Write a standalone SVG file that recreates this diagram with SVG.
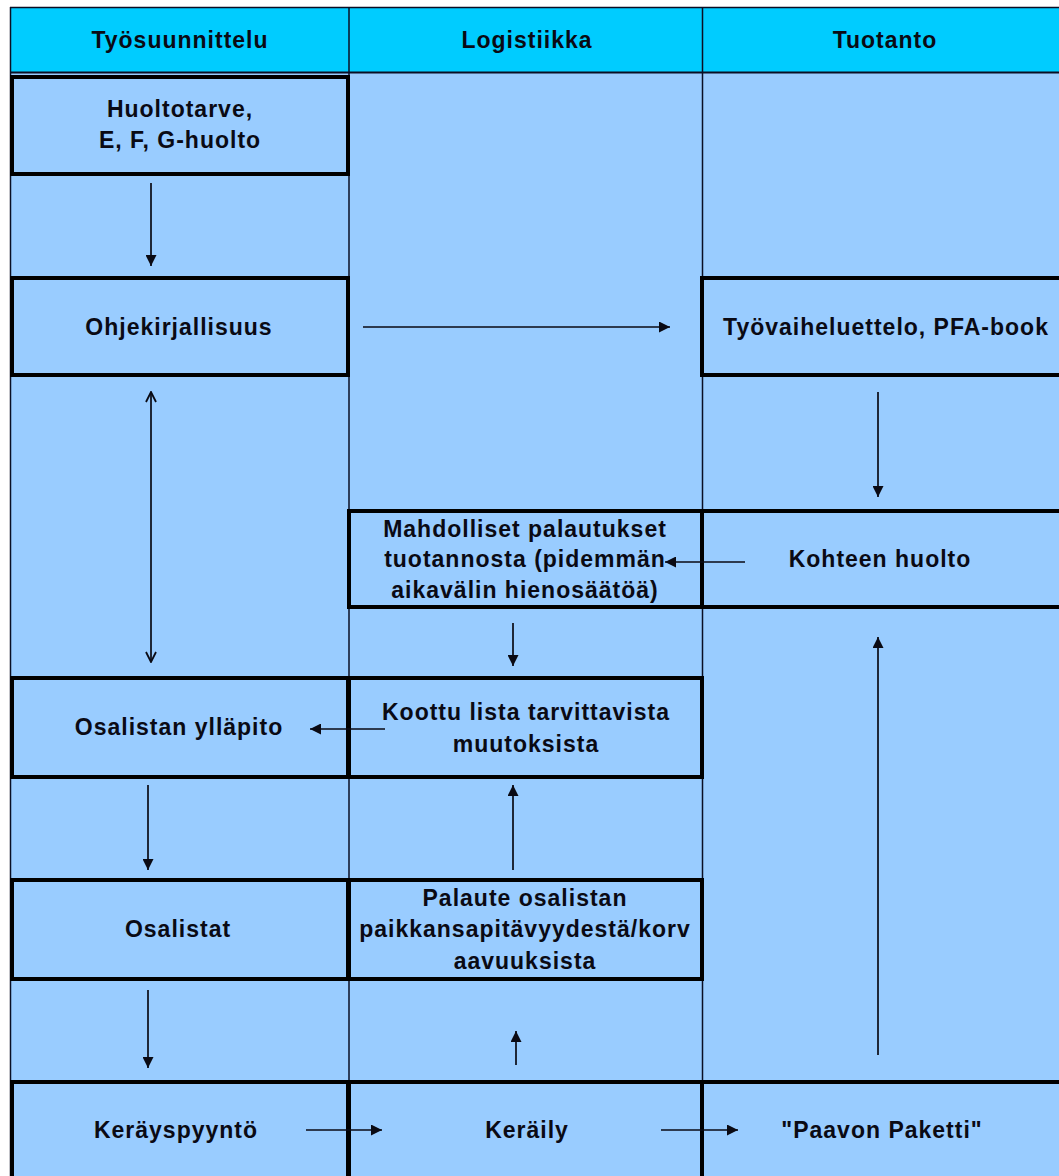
<svg xmlns="http://www.w3.org/2000/svg" width="1059" height="1176" viewBox="0 0 1059 1176">
  <style>
    .hdr { fill: #00CCFF; }
    .lane { fill: #99CCFF; }
    .sep { stroke: #0a0f24; stroke-width: 1.5; fill: none; }
    .box { fill: none; stroke: #000; stroke-width: 4; }
    .lbl { font-family: "Liberation Sans", Arial, sans-serif; font-weight: bold; font-size: 23px; letter-spacing: 1px; fill: #0a0a14; text-anchor: middle; }
    .flow { stroke: #0a0a14; stroke-width: 1.7; fill: none; }
  </style>
  <defs>
    <marker id="head" viewBox="0 0 10 10" refX="10" refY="5" markerWidth="13" markerHeight="11" markerUnits="userSpaceOnUse" orient="auto">
      <path d="M0,0 L10,5 L0,10 z" fill="#0a0a14"/>
    </marker>
    <marker id="open" viewBox="0 0 12 12" refX="11" refY="6" markerWidth="12" markerHeight="13" markerUnits="userSpaceOnUse" orient="auto-start-reverse">
      <path d="M1,1 L11,6 L1,11" fill="none" stroke="#0a0a14" stroke-width="1.8"/>
    </marker>
  </defs>

  <!-- page -->
  <rect x="0" y="0" width="1059" height="1176" fill="#ffffff"/>
  <rect class="lane" x="10" y="72" width="1049" height="1104"/>

  <!-- header row -->
  <g id="header">
    <rect class="hdr" x="10" y="7" width="1049" height="65"/>
    <line class="sep" x1="10" y1="7.5" x2="1059" y2="7.5"/>
    <line class="sep" x1="10.5" y1="7" x2="10.5" y2="1176"/>
    <line x1="10" y1="72.5" x2="1059" y2="72.5" stroke="#0a0f24" stroke-width="2"/>
    <text class="lbl" x="180" y="48">Työsuunnittelu</text>
    <text class="lbl" x="527" y="48">Logistiikka</text>
    <text class="lbl" x="885" y="48">Tuotanto</text>
  </g>

  <!-- lane separators -->
  <g id="lanes">
    <line class="sep" x1="349" y1="7" x2="349" y2="1176"/>
    <line class="sep" x1="702.5" y1="7" x2="702.5" y2="1176"/>
  </g>

  <g id="n-huoltotarve">
    <rect class="box" x="12" y="77" width="336" height="97"/>
    <text class="lbl" x="180" y="117">Huoltotarve,</text>
    <text class="lbl" x="180" y="148">E, F, G-huolto</text>
  </g>

  <g id="n-ohjekirjallisuus">
    <rect class="box" x="12" y="278" width="336" height="97"/>
    <text class="lbl" x="179" y="335">Ohjekirjallisuus</text>
  </g>

  <g id="n-tyovaiheluettelo">
    <rect class="box" x="702" y="278" width="400" height="97"/>
    <text class="lbl" x="886" y="335">Työvaiheluettelo, PFA-book</text>
  </g>

  <g id="n-palautukset">
    <rect class="box" x="349" y="511" width="353" height="96"/>
    <text class="lbl" x="525" y="537">Mahdolliset palautukset</text>
    <text class="lbl" x="525" y="567">tuotannosta (pidemmän</text>
    <text class="lbl" x="525" y="598">aikavälin hienosäätöä)</text>
  </g>

  <g id="n-kohteen-huolto">
    <rect class="box" x="702" y="511" width="400" height="96"/>
    <text class="lbl" x="880" y="567">Kohteen huolto</text>
  </g>

  <g id="n-osalistan-yllapito">
    <rect class="box" x="12" y="678" width="336" height="99"/>
    <text class="lbl" x="179" y="735">Osalistan ylläpito</text>
  </g>

  <g id="n-koottu-lista">
    <rect class="box" x="349" y="678" width="353" height="99"/>
    <text class="lbl" x="526" y="720">Koottu lista tarvittavista</text>
    <text class="lbl" x="526" y="752">muutoksista</text>
  </g>

  <g id="n-osalistat">
    <rect class="box" x="12" y="880" width="336" height="99"/>
    <text class="lbl" x="178" y="937">Osalistat</text>
  </g>

  <g id="n-palaute">
    <rect class="box" x="349" y="880" width="353" height="99"/>
    <text class="lbl" x="525" y="906">Palaute osalistan</text>
    <text class="lbl" x="525" y="937">paikkansapitävyydestä/korv</text>
    <text class="lbl" x="525" y="969">aavuuksista</text>
  </g>

  <g id="n-kerayspyynto">
    <rect class="box" x="12" y="1082" width="336" height="100"/>
    <text class="lbl" x="176" y="1138">Keräyspyyntö</text>
  </g>

  <g id="n-keraily">
    <rect class="box" x="349" y="1082" width="353" height="100"/>
    <text class="lbl" x="527" y="1138">Keräily</text>
  </g>

  <g id="n-paavon-paketti">
    <rect class="box" x="702" y="1082" width="400" height="100"/>
    <text class="lbl" x="882" y="1138">"Paavon Paketti"</text>
  </g>

  <!-- connectors -->
  <g id="connectors">
    <line class="flow" x1="151" y1="183" x2="151" y2="266" marker-end="url(#head)"/>
    <line class="flow" x1="363" y1="327" x2="670" y2="327" marker-end="url(#head)"/>
    <line class="flow" x1="151" y1="392" x2="151" y2="662" marker-start="url(#open)" marker-end="url(#open)"/>
    <line class="flow" x1="878" y1="392" x2="878" y2="497" marker-end="url(#head)"/>
    <line class="flow" x1="745" y1="562" x2="665" y2="562" marker-end="url(#head)"/>
    <line class="flow" x1="513" y1="623" x2="513" y2="666" marker-end="url(#head)"/>
    <line class="flow" x1="878" y1="1055" x2="878" y2="637" marker-end="url(#head)"/>
    <line class="flow" x1="385" y1="729" x2="310" y2="729" marker-end="url(#head)"/>
    <line class="flow" x1="148" y1="785" x2="148" y2="870" marker-end="url(#head)"/>
    <line class="flow" x1="513" y1="870" x2="513" y2="785" marker-end="url(#head)"/>
    <line class="flow" x1="148" y1="990" x2="148" y2="1068" marker-end="url(#head)"/>
    <line class="flow" x1="516" y1="1065" x2="516" y2="1031" marker-end="url(#head)"/>
    <line class="flow" x1="306" y1="1130" x2="382" y2="1130" marker-end="url(#head)"/>
    <line class="flow" x1="661" y1="1130" x2="738" y2="1130" marker-end="url(#head)"/>
  </g>
</svg>
